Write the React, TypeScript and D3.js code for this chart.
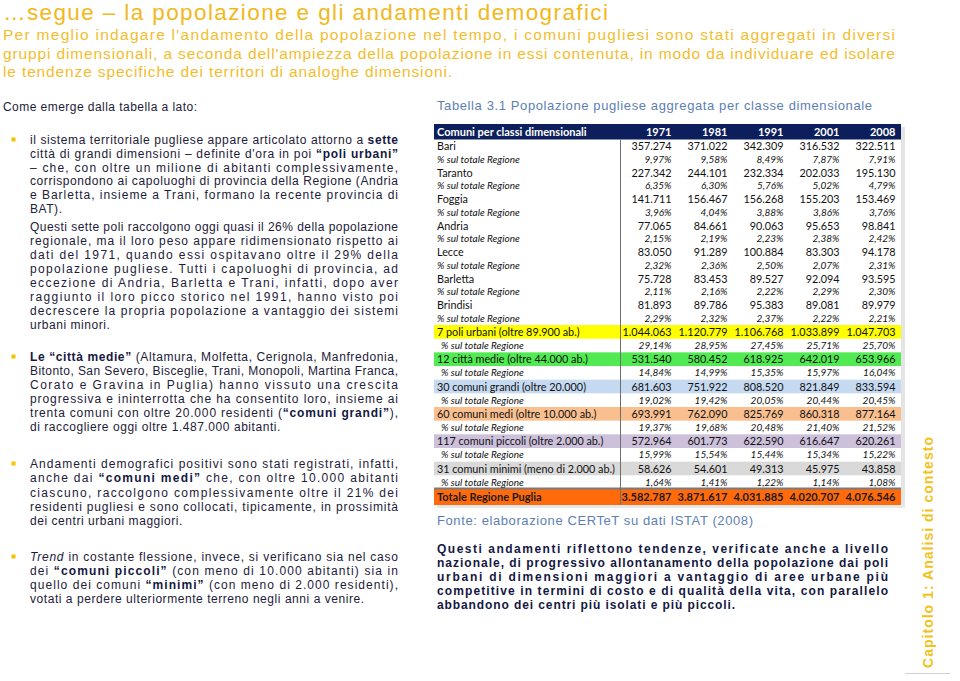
import React from "react";
import * as d3 from "d3";

const width = 960;
const height = 681;

// table data
const years = ["1971", "1981", "1991", "2001", "2008"];
const cities = ["Bari", "Taranto", "Foggia", "Andria", "Lecce", "Barletta", "Brindisi"];
const cityPop = [
  [357274, 371022, 342309, 316532, 322511],
  [227342, 244101, 232334, 202033, 195130],
  [141711, 156467, 156268, 155203, 153469],
  [77065, 84661, 90063, 95653, 98841],
  [83050, 91289, 100884, 83303, 94178],
  [75728, 83453, 89527, 92094, 93595],
  [81893, 89786, 95383, 89081, 89979]
];
const cityShare = [
  [9.97, 9.58, 8.49, 7.87, 7.91],
  [6.35, 6.3, 5.76, 5.02, 4.79],
  [3.96, 4.04, 3.88, 3.86, 3.76],
  [2.15, 2.19, 2.23, 2.38, 2.42],
  [2.32, 2.36, 2.5, 2.07, 2.31],
  [2.11, 2.16, 2.22, 2.29, 2.3],
  [2.29, 2.32, 2.37, 2.22, 2.21]
];
const groups = [
  "7 poli urbani (oltre 89.900 ab.)",
  "12 città medie (oltre 44.000 ab.)",
  "30 comuni grandi (oltre 20.000)",
  "60 comuni medi (oltre 10.000 ab.)",
  "117 comuni piccoli (oltre 2.000 ab.)",
  "31 comuni minimi (meno di 2.000 ab.)"
];
const groupPop = [
  [1044063, 1120779, 1106768, 1033899, 1047703],
  [531540, 580452, 618925, 642019, 653966],
  [681603, 751922, 808520, 821849, 833594],
  [693991, 762090, 825769, 860318, 877164],
  [572964, 601773, 622590, 616647, 620261],
  [58626, 54601, 49313, 45975, 43858]
];
const groupShare = [
  [29.14, 28.95, 27.45, 25.71, 25.7],
  [14.84, 14.99, 15.35, 15.97, 16.04],
  [19.02, 19.42, 20.05, 20.44, 20.45],
  [19.37, 19.68, 20.48, 21.4, 21.52],
  [15.99, 15.54, 15.44, 15.34, 15.22],
  [1.64, 1.41, 1.22, 1.14, 1.08]
];
const totalLabel = "Totale Regione Puglia";
const totalPop = [3582787, 3871617, 4031885, 4020707, 4076546];
const shareLabel = "% sul totale Regione";

const groupFill = ["#ffff00", "#52ea52", "#c5d9f1", "#fabf8f", "#ccc0da", "#d9d9d9"];

// slide text
const title = "…segue – la popolazione e gli andamenti demografici";
const intro = [
  "Per meglio indagare l'andamento della popolazione nel tempo, i comuni pugliesi sono stati aggregati in diversi",
  "gruppi dimensionali, a seconda dell'ampiezza della popolazione in essi contenuta, in modo da individuare ed isolare",
  "le tendenze specifiche dei territori di analoghe dimensioni."
];
const leadIn = "Come emerge dalla tabella a lato:";
const tableTitle = "Tabella 3.1 Popolazione pugliese aggregata per classe dimensionale";
const source = "Fonte: elaborazione CERTeT su dati ISTAT (2008)";
const chapter = "Capitolo 1: Analisi di contesto";

const leftBlocks = [
  {
    y0: 140, step: 13.8, bullet: true,
    lines: [
      "il sistema territoriale pugliese appare articolato attorno a **sette**",
      "città di grandi dimensioni – definite d'ora in poi **“poli urbani”**",
      "– che, con oltre un milione di abitanti complessivamente,",
      "corrispondono ai capoluoghi di provincia della Regione (Andria",
      "e Barletta, insieme a Trani, formano la recente provincia di",
      "BAT)."
    ]
  },
  {
    y0: 227, step: 13.95, bullet: false,
    lines: [
      "Questi sette poli raccolgono oggi quasi il 26% della popolazione",
      "regionale, ma il loro peso appare ridimensionato rispetto ai",
      "dati del 1971, quando essi ospitavano oltre il 29% della",
      "popolazione pugliese. Tutti i capoluoghi di provincia, ad",
      "eccezione di Andria, Barletta e Trani, infatti, dopo aver",
      "raggiunto il loro picco storico nel 1991, hanno visto poi",
      "decrescere la propria popolazione a vantaggio dei sistemi",
      "urbani minori."
    ]
  },
  {
    y0: 357, step: 14, bullet: true,
    lines: [
      "**Le “città medie”** (Altamura, Molfetta, Cerignola, Manfredonia,",
      "Bitonto, San Severo, Bisceglie, Trani, Monopoli, Martina Franca,",
      "Corato e Gravina in Puglia) hanno vissuto una crescita",
      "progressiva e ininterrotta che ha consentito loro, insieme ai",
      "trenta comuni con oltre 20.000 residenti (**“comuni grandi”**),",
      "di raccogliere oggi oltre 1.487.000 abitanti."
    ]
  },
  {
    y0: 464, step: 14.25, bullet: true,
    lines: [
      "Andamenti demografici positivi sono stati registrati, infatti,",
      "anche dai **“comuni medi”** che, con oltre 10.000 abitanti",
      "ciascuno, raccolgono complessivamente oltre il 21% dei",
      "residenti pugliesi e sono collocati, tipicamente, in prossimità",
      "dei centri urbani maggiori."
    ]
  },
  {
    y0: 557, step: 14, bullet: true,
    lines: [
      "_Trend_ in costante flessione, invece, si verificano sia nel caso",
      "dei **“comuni piccoli”** (con meno di 10.000 abitanti) sia in",
      "quello dei comuni **“minimi”** (con meno di 2.000 residenti),",
      "votati a perdere ulteriormente terreno negli anni a venire."
    ]
  }
];

const closing = [
  "Questi andamenti riflettono tendenze, verificate anche a livello",
  "nazionale, di progressivo allontanamento della popolazione dai poli",
  "urbani di dimensioni maggiori a vantaggio di aree urbane più",
  "competitive in termini di costo e di qualità della vita, con parallelo",
  "abbandono dei centri più isolati e più piccoli."
];

const yellow = "#f2b81c";
const ink = "#1d2038";
const inkBold = "#15183f";
const steel = "#5d80b4";
const sans = "'Liberation Sans', Arial, sans-serif";
const tableFont = "Lato, 'Liberation Sans', sans-serif";

const it = d3.formatLocale({ decimal: ",", thousands: ".", grouping: [3], currency: ["", "€"] });
const fmtPop = it.format(",d");
const fmtPct = (v: number) => it.format(".2f")(v) + "%";

// split "**bold**" and "_italic_" segments
function parts(s: string) {
  return s
    .split(/(\*\*[^*]+\*\*|_[^_]+_)/)
    .filter(Boolean)
    .map(p =>
      p.startsWith("**")
        ? { t: p.slice(2, -2), b: true, i: false }
        : p.startsWith("_")
        ? { t: p.slice(1, -1), b: false, i: true }
        : { t: p, b: false, i: false }
    );
}

// w given -> justified to that width, else natural width with letter spacing
function Line({ x, y, w, s, size, fill, weight, ls }: any) {
  return (
    <text
      x={x}
      y={y}
      textLength={w}
      lengthAdjust={w ? "spacing" : undefined}
      fontSize={size}
      fontFamily={sans}
      fill={fill}
      fontWeight={weight || "normal"}
      style={{ whiteSpace: "pre", letterSpacing: w ? undefined : ls || 0.55 }}
    >
      {parts(s).map((p, i) => (
        <tspan
          key={i}
          fontWeight={p.b ? "bold" : undefined}
          fontStyle={p.i ? "italic" : undefined}
          fill={p.b ? inkBold : undefined}
        >
          {p.t}
        </tspan>
      ))}
    </text>
  );
}

function Table() {
  const left = 434;
  const right = 901;
  const cityKeys = cities.flatMap(c => [c, c + "%"]);
  const groupKeys = groups.flatMap(g => [g, g + "%"]);

  const x = d3.scaleBand().domain(years).range([617, 897]);
  const colRight = (yr: string) => (x(yr) as number) + x.bandwidth() - 1.5;
  const yCity = d3.scaleBand().domain(cityKeys).range([139.5, 325]);
  const yGroup = d3.scaleBand().domain(groupKeys).range([325, 489]);
  const totalTop = 489;
  const totalH = 16;

  const valueRow = (key: string, y: d3.ScaleBand<string>, label: string, vals: number[], pct: boolean, indent: number) => {
    const base = (y(key) as number) + y.bandwidth() / 2 + (pct ? 3.4 : 4);
    const size = pct ? 10 : 10.8;
    return (
      <g key={key}>
        <text x={437 + indent} y={base} fontSize={size} fontStyle={pct ? "italic" : "normal"} fill="#111">
          {label}
        </text>
        {years.map((yr, j) => (
          <text
            key={yr}
            x={colRight(yr)}
            y={base}
            textAnchor="end"
            fontSize={size}
            fontStyle={pct ? "italic" : "normal"}
            fill="#111"
          >
            {pct ? fmtPct(vals[j]) : fmtPop(vals[j])}
          </text>
        ))}
      </g>
    );
  };

  return (
    <g fontFamily={tableFont}>
      <rect x={right} y={127} width={4} height={381} fill="#e4e4e4" />
      <rect x={left + 3} y={totalTop + totalH} width={right - left + 1} height={3} fill="#e8e8e8" />
      <rect x={left} y={124} width={right - left} height={15.5} fill="#0c1f5c" />
      <text x={437} y={135.5} fill="#fff" fontWeight="bold" fontSize={11}>
        Comuni per classi dimensionali
      </text>
      {years.map(yr => (
        <text key={yr} x={colRight(yr)} y={135.5} fill="#fff" fontWeight="bold" fontSize={11} textAnchor="end">
          {yr}
        </text>
      ))}

      {groups.map((g, i) => (
        <rect key={g} x={left} y={yGroup(g)} width={right - left} height={yGroup.bandwidth()} fill={groupFill[i]} />
      ))}
      <rect x={left} y={totalTop} width={right - left} height={totalH} fill="#ff6a0a" />
      <line x1={left} x2={right} y1={totalTop - 0.5} y2={totalTop - 0.5} stroke="#7a7a7a" strokeWidth={2} />
      <line x1={620.5} x2={620.5} y1={139.5} y2={totalTop + totalH} stroke="#6e6e6e" strokeWidth={1} />

      {cities.map((c, i) => [
        valueRow(c, yCity, c, cityPop[i], false, 0),
        valueRow(c + "%", yCity, shareLabel, cityShare[i], true, 0)
      ])}
      {groups.map((g, i) => [
        valueRow(g, yGroup, g, groupPop[i], false, 0),
        valueRow(g + "%", yGroup, shareLabel, groupShare[i], true, 4)
      ])}

      <text x={437} y={totalTop + 12} fontSize={11} fontWeight="bold" fill="#1a1a1a">
        {totalLabel}
      </text>
      {years.map((yr, j) => (
        <text key={yr} x={colRight(yr)} y={totalTop + 12} fontSize={11} fontWeight="bold" fill="#1a1a1a" textAnchor="end">
          {fmtPop(totalPop[j])}
        </text>
      ))}
    </g>
  );
}

export default function App() {
  return (
    <svg
      width={width}
      height={height}
      style={{ position: "absolute", left: 0, top: 0, background: "#fff" }}
    >
      <rect width={width} height={height} fill="#fff" />
      <text x={3} y={20} fontSize={22.5} fontFamily={sans} fill={yellow} textLength={605} lengthAdjust="spacing">
        {title}
      </text>
      {intro.map((s, i) => (
        <Line key={i} x={3} y={40 + i * 18.6} w={i < intro.length - 1 ? 892 : 449} s={s} size={15.5} fill="#f3bd2c" />
      ))}

      <Line x={3} y={111} w={194} s={leadIn} size={12} fill={ink} />
      <Line x={437} y={110} w={435} s={tableTitle} size={13} fill={steel} />

      {leftBlocks.map((b, bi) => (
        <g key={bi}>
          {b.bullet && <rect x={11.5} y={b.y0 - 2.5} width={4} height={4} fill="#f5c400" />}
          {b.lines.map((s, i) => (
            <Line
              key={i}
              x={30}
              y={b.y0 + i * b.step + 4}
              w={i < b.lines.length - 1 ? 368 : undefined}
              s={s}
              size={12}
              fill={ink}
            />
          ))}
        </g>
      ))}

      <Table />

      <Line x={437} y={525} w={316} s={source} size={13} fill={steel} />
      {closing.map((s, i) => (
        <Line
          key={i}
          x={437}
          y={549 + i * 14 + 4}
          w={i < closing.length - 1 ? 451 : undefined}
          ls={0.9}
          s={s}
          size={12}
          fill={inkBold}
          weight="bold"
        />
      ))}

      <text
        transform="translate(933,668) rotate(-90)"
        fontSize={14}
        fontWeight="bold"
        fontFamily={sans}
        fill="#f2c21b"
        textLength={231}
        lengthAdjust="spacing"
      >
        {chapter}
      </text>
      <line x1={905} x2={950} y1={673.5} y2={673.5} stroke="#cfcfcf" strokeWidth={1} />
    </svg>
  );
}
